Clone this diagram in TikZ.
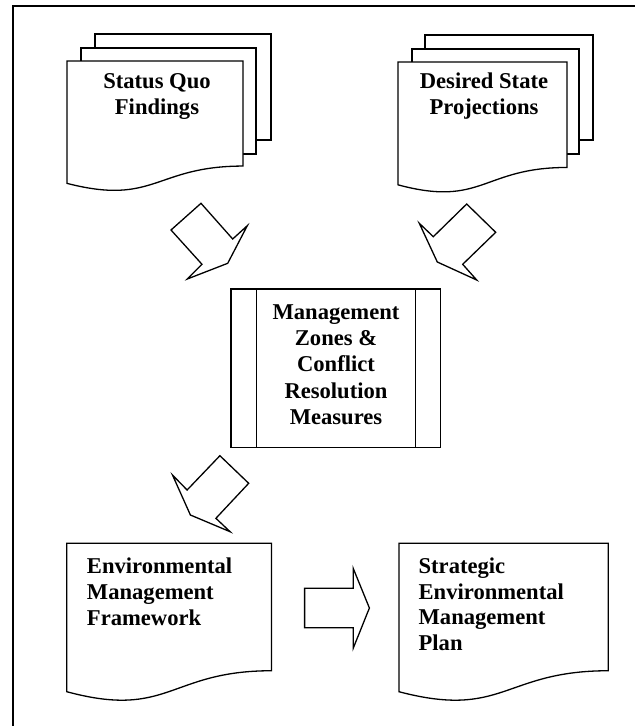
\documentclass[tikz,border=0pt]{standalone}
\usepackage{fontspec}
\setmainfont{Liberation Serif}

% flowchart document shape: corner x, corner y, width, height
\newcommand{\docshape}[4]{%
  \pgfmathsetmacro\xa{#1+#3}\pgfmathsetmacro\xm{#1+0.5*#3}%
  \pgfmathsetmacro\yr{#2+0.802*#4}\pgfmathsetmacro\yc{#2+1.1075*#4}%
  \pgfmathsetmacro\yl{#2+0.934*#4}%
  \draw[fill=white] (#1,#2) -- (\xa,#2) -- (\xa,\yr)
    .. controls (\xm,\yr) and (\xm,\yc) .. (#1,\yl) -- cycle;}

\begin{document}
\begin{tikzpicture}[x=1pt, y=-1pt, line width=1.3pt, line join=miter,
    lbl/.style={inner sep=0pt, font=\fontsize{22.6}{26.3}\selectfont\bfseries},
    lbltight/.style={inner sep=0pt, font=\fontsize{22.6}{25.8}\selectfont\bfseries}]
    \useasboundingbox (0,0) rectangle (635,726);
    \draw[line width=2pt] (13.3,726) -- (13.3,6) -- (635,6);

    \draw[fill=white] (95,34) rectangle (271,140);
    \draw[fill=white] (81,48) rectangle (256,154);
    \docshape{67}{61}{176}{131}
    \node[lbl, align=center, anchor=base] (statusquo) at (157,114.7) {Status Quo\\Findings};

    \draw[fill=white] (425,35) rectangle (593,140);
    \draw[fill=white] (412,49) rectangle (579,154);
    \docshape{398}{62}{169}{131.5}
    \node[lbl, align=center, anchor=base] (desired) at (484,114.7) {Desired State\\Projections};

    \draw (171,230) -- (201,203.3) -- (232.7,239) -- (247.3,225.7) -- (227.7,263.3)
        -- (187.3,279) -- (202,264.3) -- cycle;
    \draw (419.3,223.3) -- (433.3,236.7) -- (466.7,204) -- (495.7,232.3) -- (462.7,264.3)
        -- (476.7,280) -- (437.3,262) -- cycle;

    \draw (231,289) rectangle (440.7,447.7);
    \draw (256.3,289) -- (256.3,447.7);
    \draw (415.3,289) -- (415.3,447.7);
    \node[lbl, align=center, anchor=base] (zones) at (336,424.4)
        {Management\\Zones \&\\Conflict\\Resolution\\Measures};

    \draw (219.9,455.7) -- (248.7,483.3) -- (215.9,518.3) -- (230.1,531.7) -- (190.4,515)
        -- (172.5,475) -- (187.1,490) -- cycle;

    \docshape{66.8}{543.3}{204.6}{158.9}
    \node[lbltight, align=left, anchor=base west] (emf) at (86.3,625)
        {Environmental\\Management\\Framework};

    \draw (304.6,588.3) -- (353.2,588.3) -- (353.2,568.3) -- (369.4,608) -- (353.2,648.3)
        -- (353.2,627.7) -- (304.6,627.7) -- cycle;

    \docshape{399}{543.3}{209.3}{158.9}
    \node[lbltight, align=left, anchor=base west] (semp) at (418,650.7)
        {Strategic\\Environmental\\Management\\Plan};

\end{tikzpicture}
\end{document}
